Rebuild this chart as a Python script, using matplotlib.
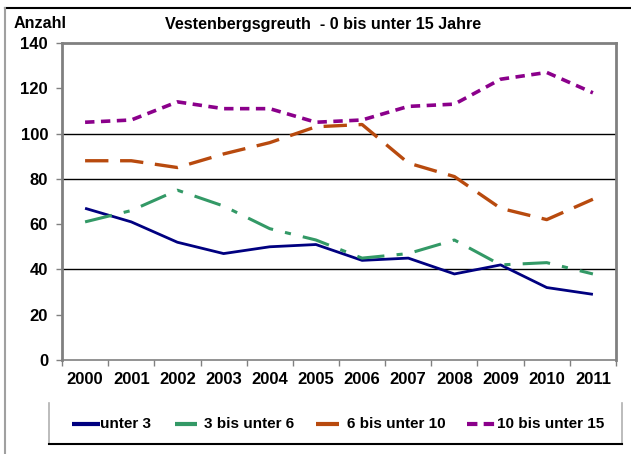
import matplotlib
matplotlib.use("Agg")
import matplotlib.pyplot as plt
from matplotlib.lines import Line2D

plt.rcParams['font.family'] = ['Liberation Sans', 'DejaVu Sans']
plt.rcParams['font.weight'] = 'bold'

years = ['2000', '2001', '2002', '2003', '2004', '2005', '2006', '2007', '2008', '2009', '2010', '2011']
unter3 = [67, 61, 52, 47, 50, 51, 44, 45, 38, 42, 32, 29]
bis6 = [61, 66, 75, 68, 58, 53, 45, 47, 53, 42, 43, 38]
bis10 = [88, 88, 85, 91, 96, 103, 104, 87, 81, 67, 62, 71]
bis15 = [105, 106, 114, 111, 111, 105, 106, 112, 113, 124, 127, 118]
series_names = ['unter 3', '3 bis unter 6', '6 bis unter 10', '10 bis unter 15']
yticks = [0, 20, 40, 60, 80, 100, 120, 140]
grid_vals = [40, 80, 100]

W, H = 631, 454
fig = plt.figure(figsize=(W / 100, H / 100), dpi=100)
ax = fig.add_axes([62 / W, 1 - 360 / H, (616 - 62) / W, (360 - 43) / H])

x = list(range(len(years)))
c_blue = '#000080'
c_green = '#339966'
c_orange = '#B84A0E'
c_purple = '#8B008B'

ax.plot(x, unter3, color=c_blue, lw=2.0, solid_capstyle='butt')
ax.plot(x, bis6, color=c_green, lw=2.2, dashes=(9, 4, 2, 4))
ax.plot(x, bis10, color=c_orange, lw=2.4, dashes=(7, 3.5))
ax.plot(x, bis15, color=c_purple, lw=2.6, dashes=(2.6, 1.8))

for g in grid_vals:
    ax.axhline(g, color='black', lw=1.0, zorder=0)

ax.set_xlim(-0.5, len(years) - 0.5)
ax.set_ylim(0, 140)
ax.set_yticks(yticks)
ax.set_yticklabels([str(v) for v in yticks], fontsize=12, fontweight='bold')
ax.set_xticks(x)
ax.set_xticklabels(years, fontsize=12, fontweight='bold')
ax.tick_params(axis='x', which='major', length=0, pad=9)
ax.set_xticks([i - 0.5 for i in range(len(years) + 1)], minor=True)
ax.tick_params(axis='x', which='minor', length=4, color='#808080', width=1)
ax.tick_params(axis='y', length=4, color='#808080', width=1, pad=6)
for s in ax.spines.values():
    s.set_color('#808080')
    s.set_linewidth(2)
ax.spines['bottom'].set_linewidth(1.2)

fig.text(14 / W, 1 - 24 / H, 'Anzahl', fontsize=11.6, fontweight='bold', va='center', ha='left')
fig.text(323 / W, 1 - 24 / H, 'Vestenbergsgreuth  - 0 bis unter 15 Jahre', fontsize=11.6,
         fontweight='bold', va='center', ha='center')

# outer frame
fig.add_artist(Line2D([5 / W, 1], [1 - 8 / H, 1 - 8 / H], color='black', lw=1.5))
fig.add_artist(Line2D([5 / W, 5 / W], [0, 1 - 8 / H], color='#a0a0a0', lw=1.5))
# legend box
fig.add_artist(Line2D([49 / W, 49 / W], [1 - 444 / H, 1 - 403 / H], color='#b0b0b0', lw=1.2))
fig.add_artist(Line2D([622 / W, 622 / W], [1 - 444 / H, 1 - 403 / H], color='#b0b0b0', lw=1.2))
fig.add_artist(Line2D([49 / W, 622 / W], [1 - 444 / H, 1 - 444 / H], color='black', lw=1.5))

# legend entries (handle start, handle end, text start) in pixels
leg_pos = [(72, 100, 100), (175, 197, 204), (316, 339, 347), (467, 495, 497)]
leg_styles = [dict(color=c_blue, linestyle='-'), dict(color=c_green, linestyle='-'),
              dict(color=c_orange, linestyle='-'), dict(color=c_purple, dashes=(2.5, 1.5))]
ly = 1 - 424 / H
for name, (h0, h1, t0), st in zip(series_names, leg_pos, leg_styles):
    fig.add_artist(Line2D([h0 / W, h1 / W], [ly, ly], lw=3, solid_capstyle='butt', **st))
    fig.text(t0 / W, ly, name, fontsize=11, fontweight='bold', va='center', ha='left')

fig.savefig('out.png', dpi=100)
